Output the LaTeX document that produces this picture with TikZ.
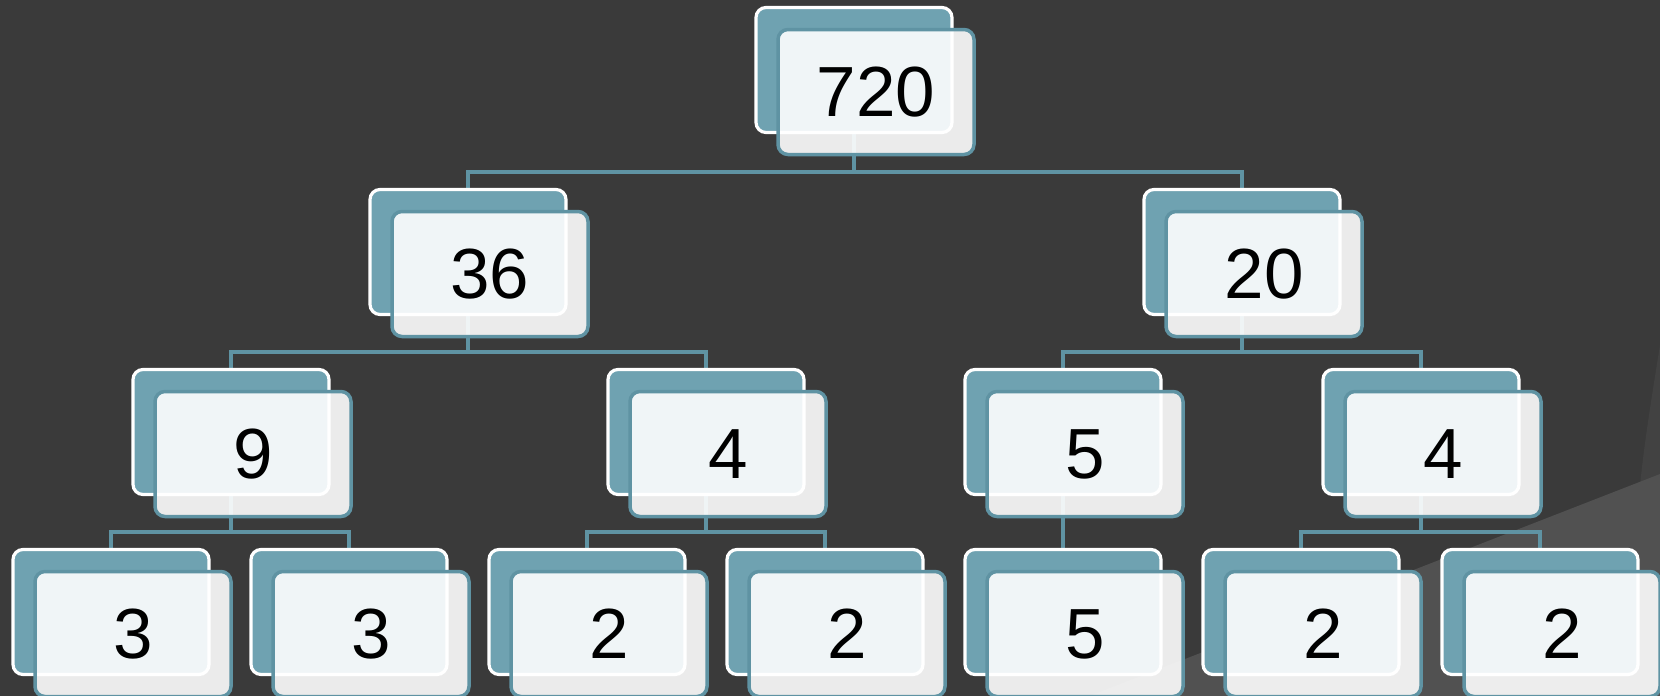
\documentclass[tikz,border=0pt]{standalone}
\usepackage{fontspec}
\setmainfont{Liberation Sans}
\usetikzlibrary{backgrounds}

\definecolor{slate}{HTML}{3A3A3A}
\definecolor{slatemid}{HTML}{424242}
\definecolor{slatelight}{HTML}{515151}
\definecolor{tealfill}{HTML}{6FA2B1}
\definecolor{tealline}{HTML}{5F93A3}

\newcommand{\factorbox}[4]{%
    \node[backbox] (#1) at (#2,#3) {};
    \node[frontbox] (#1f) at ([shift={(22,22)}]#1.center) {#4};
}
\tikzset{
            backbox/.style={fill=tealfill, draw=white, line width=3.2pt,
                rounded corners=10pt, minimum width=196pt, minimum height=125pt},
            frontbox/.style={fill=white, fill opacity=0.9, text opacity=1,
                draw=tealline, line width=3.5pt, rounded corners=10pt,
                minimum width=196pt, minimum height=125pt,
                font=\fontsize{71}{80}\selectfont},
            link/.style={draw=tealline, line width=3.5pt}
        }

\begin{document}
\begin{tikzpicture}[
                    x=1pt, y=-1pt
                    ]
                \useasboundingbox (0,0) rectangle (1660,696);
                \factorbox{r}{854}{70}{720}
                \factorbox{a}{468}{252}{36}
                \factorbox{b}{1242}{252}{20}
                \factorbox{aa}{231}{432}{9}
                \factorbox{ab}{706}{432}{4}
                \factorbox{ba}{1063}{432}{5}
                \factorbox{bb}{1421}{432}{4}
                \factorbox{aaa}{111}{612}{3}
                \factorbox{aab}{349}{612}{3}
                \factorbox{aba}{587}{612}{2}
                \factorbox{abb}{825}{612}{2}
                \factorbox{baa}{1063}{612}{5}
                \factorbox{bba}{1301}{612}{2}
                \factorbox{bbb}{1540}{612}{2}
                \begin{pgfonlayer}{background}
                    \fill[slate] (0,0) rectangle (1660,696);
                    \fill[slatemid] (1660,345) .. controls (1640,470) .. (1622,696) -- (1660,696) -- cycle;
                    \fill[slatelight] (1090,696) -- (1660,474) -- (1660,696) -- cycle;
                    \draw[link] (r.south) -- ++(0,38) -| (a.north);
                    \draw[link] (r.south) -- ++(0,38) -| (b.north);
                    \draw[link] (a.south) -- ++(0,36) -| (aa.north);
                    \draw[link] (a.south) -- ++(0,36) -| (ab.north);
                    \draw[link] (b.south) -- ++(0,36) -| (ba.north);
                    \draw[link] (b.south) -- ++(0,36) -| (bb.north);
                    \draw[link] (aa.south) -- ++(0,36) -| (aaa.north);
                    \draw[link] (aa.south) -- ++(0,36) -| (aab.north);
                    \draw[link] (ab.south) -- ++(0,36) -| (aba.north);
                    \draw[link] (ab.south) -- ++(0,36) -| (abb.north);
                    \draw[link] (ba.south) -- (baa.north);
                    \draw[link] (bb.south) -- ++(0,36) -| (bba.north);
                    \draw[link] (bb.south) -- ++(0,36) -| (bbb.north);
                \end{pgfonlayer}
            \end{tikzpicture}
\end{document}
